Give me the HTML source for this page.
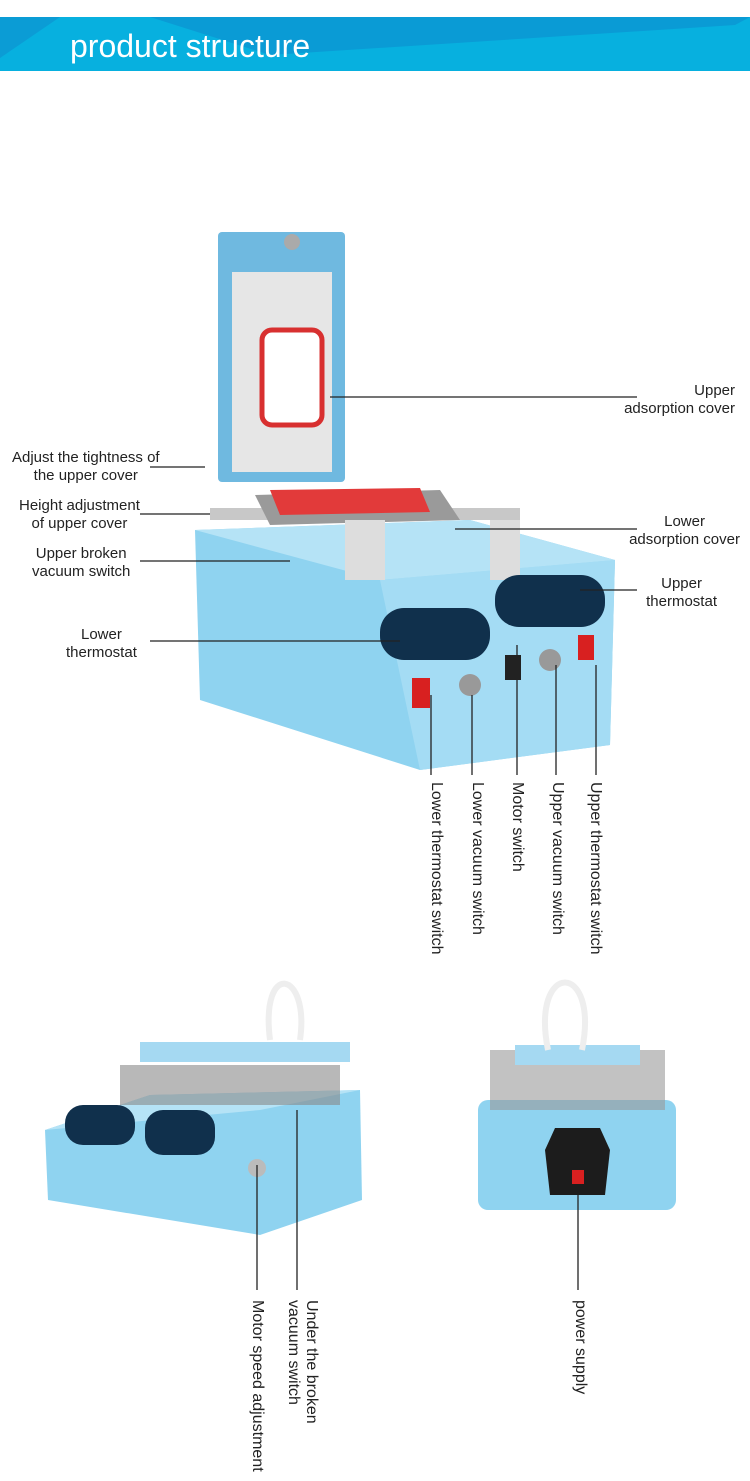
<!DOCTYPE html>
<html><head><meta charset="utf-8"><style>
body{margin:0;width:750px;height:1481px;background:#fff;position:relative;overflow:hidden;font-family:"Liberation Sans",sans-serif;color:#222}
.t{position:absolute;font-size:15px;line-height:18px;white-space:nowrap}
.v{position:absolute;writing-mode:vertical-rl;font-size:16px;line-height:18px;white-space:nowrap}
svg{position:absolute;left:0;top:0}
</style></head><body>
<svg width="750" height="1481">
<rect x="0" y="17" width="750" height="54" fill="#07b0df"/>
<polygon points="0,17 60,17 0,58" fill="#0b9cd5"/>
<polygon points="150,17 750,17 735,25 270,55" fill="#0a9bd5"/>
<text x="70" y="57" font-size="32" fill="#fff" font-family="Liberation Sans">product structure</text>

<!-- main machine -->
<polygon points="195,530 470,520 615,560 610,745 420,770 200,700" fill="#8fd3f0"/>
<polygon points="380,580 615,560 610,745 420,770" fill="#a4dcf4"/>
<polygon points="195,530 470,520 615,560 380,580" fill="#b5e3f6"/>
<rect x="210" y="508" width="310" height="12" fill="#c8c8c8"/>
<polygon points="255,495 440,490 460,520 270,525" fill="#9a9a9a"/>
<polygon points="270,490 420,488 430,512 280,515" fill="#e23a3a"/>
<rect x="218" y="232" width="127" height="250" fill="#6fb9e0" rx="4"/>
<rect x="232" y="272" width="100" height="200" fill="#e6e6e6"/>
<rect x="262" y="330" width="60" height="95" rx="10" fill="#fff" stroke="#d83030" stroke-width="5"/>
<circle cx="292" cy="242" r="8" fill="#aaa"/>
<rect x="345" y="520" width="40" height="60" fill="#ddd"/>
<rect x="490" y="520" width="30" height="60" fill="#ddd"/>
<rect x="380" y="608" width="110" height="52" rx="24" fill="#10304c"/>
<rect x="495" y="575" width="110" height="52" rx="24" fill="#10304c"/>
<rect x="412" y="678" width="18" height="30" fill="#d82020"/>
<circle cx="470" cy="685" r="11" fill="#999"/>
<rect x="505" y="655" width="16" height="25" fill="#222"/>
<circle cx="550" cy="660" r="11" fill="#999"/>
<rect x="578" y="635" width="16" height="25" fill="#d82020"/>

<!-- bottom left machine -->
<polygon points="45,1130 150,1095 360,1090 362,1200 260,1235 48,1200" fill="#8fd3f0"/>
<polygon points="45,1130 150,1095 360,1090 260,1110" fill="#b5e3f6"/>
<rect x="140" y="1042" width="210" height="20" fill="#a5d9f2"/>
<rect x="120" y="1065" width="220" height="40" fill="#888" opacity=".6"/>
<rect x="65" y="1105" width="70" height="40" rx="18" fill="#10304c"/>
<rect x="145" y="1110" width="70" height="45" rx="18" fill="#10304c"/>
<path d="M270,1040 C260,960 310,970 300,1040" stroke="#eee" stroke-width="6" fill="none"/>
<circle cx="257" cy="1168" r="9" fill="#bbb"/>

<!-- bottom right machine -->
<rect x="478" y="1100" width="198" height="110" rx="10" fill="#8fd3f0"/>
<rect x="490" y="1050" width="175" height="60" fill="#999" opacity=".6"/>
<rect x="515" y="1045" width="125" height="20" fill="#a5d9f2"/>
<path d="M548,1050 C530,960 600,960 582,1050" stroke="#eee" stroke-width="6" fill="none"/>
<polygon points="555,1128 600,1128 610,1150 605,1195 550,1195 545,1150" fill="#1c1c1c"/>
<rect x="572" y="1170" width="12" height="14" fill="#d82020"/>

<g stroke="#222" stroke-width="1.3" fill="none">
<line x1="330" y1="397" x2="637" y2="397"/>
<line x1="150" y1="467" x2="205" y2="467"/>
<line x1="140" y1="514" x2="210" y2="514"/>
<line x1="140" y1="561" x2="290" y2="561"/>
<line x1="455" y1="529" x2="637" y2="529"/>
<line x1="580" y1="590" x2="637" y2="590"/>
<line x1="150" y1="641" x2="400" y2="641"/>
<line x1="431" y1="695" x2="431" y2="775"/>
<line x1="472" y1="695" x2="472" y2="775"/>
<line x1="517" y1="645" x2="517" y2="775"/>
<line x1="556" y1="665" x2="556" y2="775"/>
<line x1="596" y1="665" x2="596" y2="775"/>
<line x1="257" y1="1165" x2="257" y2="1290"/>
<line x1="297" y1="1110" x2="297" y2="1290"/>
<line x1="578" y1="1195" x2="578" y2="1290"/>
</g>
</svg>
<div class="t" style="right:15px;top:382px;text-align:right">Upper<br>adsorption cover</div>
<div class="t" style="left:12px;top:449px;text-align:center">Adjust the tightness of<br>the upper cover</div>
<div class="t" style="left:19px;top:497px;text-align:center">Height adjustment<br>of upper cover</div>
<div class="t" style="left:32px;top:545px;text-align:center">Upper broken<br>vacuum switch</div>
<div class="t" style="right:10px;top:513px;text-align:center">Lower<br>adsorption cover</div>
<div class="t" style="right:33px;top:575px;text-align:center">Upper<br>thermostat</div>
<div class="t" style="left:66px;top:626px;text-align:center">Lower<br>thermostat</div>
<div class="v" style="left:427px;top:782px">Lower thermostat switch</div>
<div class="v" style="left:468px;top:782px">Lower vacuum switch</div>
<div class="v" style="left:508px;top:782px">Motor switch</div>
<div class="v" style="left:548px;top:782px">Upper vacuum switch</div>
<div class="v" style="left:586px;top:782px">Upper thermostat switch</div>
<div class="v" style="left:248px;top:1300px">Motor speed adjustment</div>
<div class="v" style="left:284px;top:1300px">Under the broken<br>vacuum switch</div>
<div class="v" style="left:571px;top:1300px">power supply</div>
</body></html>
